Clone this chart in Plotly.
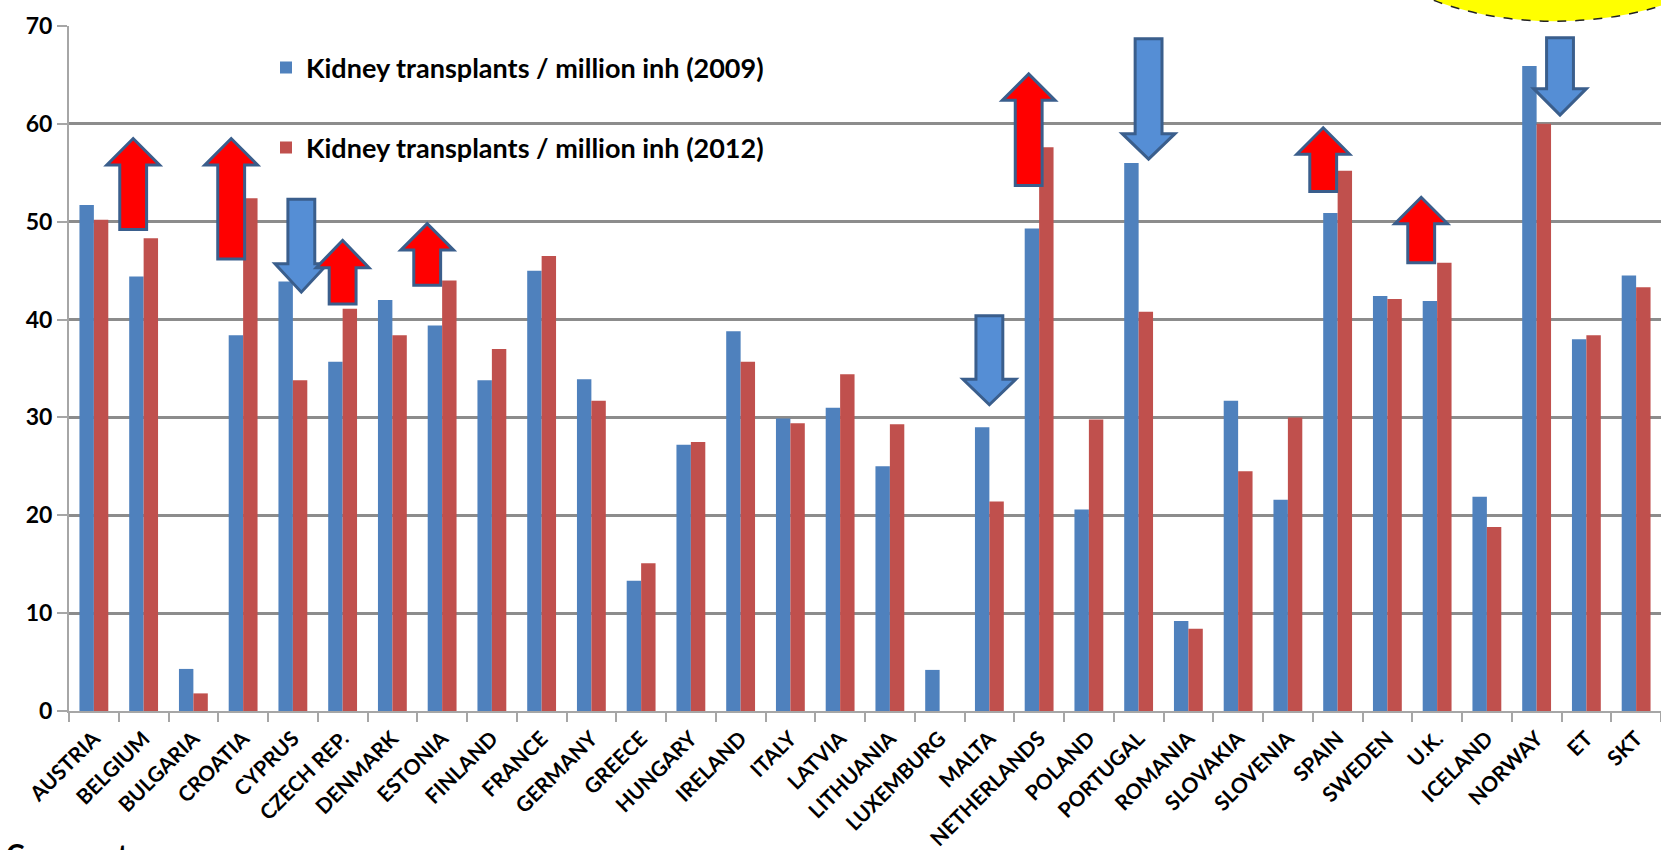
import plotly.graph_objects as go

# ---------------- data ----------------
countries = ["AUSTRIA", "BELGIUM", "BULGARIA", "CROATIA", "CYPRUS", "CZECH REP.",
             "DENMARK", "ESTONIA", "FINLAND", "FRANCE", "GERMANY", "GREECE",
             "HUNGARY", "IRELAND", "ITALY", "LATVIA", "LITHUANIA", "LUXEMBURG",
             "MALTA", "NETHERLANDS", "POLAND", "PORTUGAL", "ROMANIA", "SLOVAKIA",
             "SLOVENIA", "SPAIN", "SWEDEN", "U.K.", "ICELAND", "NORWAY", "ET", "SKT"]

kidney_2009 = [51.7, 44.4, 4.3, 38.4, 43.9, 35.7, 42.0, 39.4, 33.8, 45.0,
               33.9, 13.3, 27.2, 38.8, 29.9, 31.0, 25.0, 4.2, 29.0, 49.3,
               20.6, 56.0, 9.2, 31.7, 21.6, 50.9, 42.4, 41.9, 21.9, 65.9,
               38.0, 44.5]

kidney_2012 = [50.2, 48.3, 1.8, 52.4, 33.8, 41.1, 38.4, 44.0, 37.0, 46.5,
               31.7, 15.1, 27.5, 35.7, 29.4, 34.4, 29.3, None, 21.4, 57.6,
               29.8, 40.8, 8.4, 24.5, 30.0, 55.2, 42.1, 45.8, 18.8, 60.0,
               38.4, 43.3]

series_names = ["Kidney transplants / million inh (2009)",
                "Kidney transplants / million inh (2012)"]

y_ticks = [0, 10, 20, 30, 40, 50, 60, 70]

# change-indicator arrows drawn over the chart (annotation layer)
arrow_country = ["BELGIUM", "CROATIA", "CYPRUS", "CZECH REP.", "ESTONIA", "MALTA",
                 "NETHERLANDS", "PORTUGAL", "SPAIN", "U.K.", "NORWAY"]
arrow_dir = ["up", "up", "down", "up", "up", "down", "up", "down", "up", "up", "down"]
arrow_tail = [49.2, 46.2, 52.3, 41.6, 43.5, 40.4, 53.7, 68.7, 53.1, 45.8, 68.8]
arrow_head_base = [55.8, 55.8, 45.7, 45.3, 47.1, 33.9, 62.4, 59.0, 56.9, 49.8, 63.6]
arrow_tip = [58.5, 58.5, 42.8, 48.1, 49.8, 31.3, 65.1, 56.4, 59.6, 52.5, 60.9]
arrow_shift = [-0.21, -0.24, 0.17, 0.0, -0.30, 0.0, -0.21, 0.2, -0.29, -0.32, 0.47]

# ---------------- styles ----------------
BLUE = "#4F81BD"
RED = "#C0504D"
GRID = "#8C8C8C"
AXIS = "#A6A6A6"
FONT = "Lato"

fig = go.Figure()
fig.add_trace(go.Bar(x=countries, y=kidney_2009, name=series_names[0],
                     marker=dict(color=BLUE, line=dict(width=0)), legend="legend"))
fig.add_trace(go.Bar(x=countries, y=kidney_2012, name=series_names[1],
                     marker=dict(color=RED, line=dict(width=0)), legend="legend2"))

shapes = []
SHAFT = 0.27
HEAD = 0.53
for c, d, t0, hb, tp, sh in zip(arrow_country, arrow_dir, arrow_tail,
                                arrow_head_base, arrow_tip, arrow_shift):
    xc = countries.index(c) + sh
    path = (f"M {xc - SHAFT},{t0} L {xc + SHAFT},{t0} L {xc + SHAFT},{hb} "
            f"L {xc + HEAD},{hb} L {xc},{tp} L {xc - HEAD},{hb} L {xc - SHAFT},{hb} Z")
    fill = "#FF0000" if d == "up" else "#558ED5"
    shapes.append(dict(type="path", xref="x", yref="y", path=path,
                       fillcolor=fill, line=dict(color="#3A5E8C", width=3),
                       layer="above"))

# yellow callout ellipse, cut by top edge
shapes.append(dict(type="circle", xref="paper", yref="paper",
                   x0=(1365 - 69) / 1592, x1=(1745 - 69) / 1592,
                   y0=(711 - 21.7) / 684.5, y1=(711 + 160) / 684.5,
                   fillcolor="#FFFF00", line=dict(color="#222222", width=1.5, dash="dash"),
                   layer="above"))

fig.update_layout(
    width=1661, height=850,
    margin=dict(l=69, r=0, t=26, b=139, autoexpand=False),
    paper_bgcolor="white", plot_bgcolor="white",
    barmode="group", bargap=0.42, bargroupgap=0,
    font=dict(family=FONT, color="#000000"),
    shapes=shapes,
    showlegend=True,
    legend=dict(xref="container", yref="container", x=266 / 1661, y=1 - 68 / 850,
                xanchor="left", yanchor="middle", bgcolor="rgba(0,0,0,0)",
                font=dict(family=FONT, size=27, color="#000000", weight="bold"),
                itemclick=False),
    legend2=dict(xref="container", yref="container", x=266 / 1661, y=1 - 148 / 850,
                 xanchor="left", yanchor="middle", bgcolor="rgba(0,0,0,0)",
                 font=dict(family=FONT, size=27, color="#000000", weight="bold"),
                 itemclick=False),
    xaxis=dict(
        type="category", tickangle=-45, tickson="boundaries",
        ticks="outside", ticklen=9, tickwidth=2, tickcolor=AXIS,
        showline=True, linecolor=AXIS, linewidth=2,
        showgrid=False, zeroline=False,
        tickfont=dict(family=FONT, size=21, color="#000000", weight="bold"),
        ticklabelstandoff=5,
        range=[-0.5, len(countries) - 0.5],
    ),
    yaxis=dict(
        range=[0, 70], tickvals=y_ticks, ticktext=[str(v) for v in y_ticks],
        ticks="outside", ticklen=10, tickwidth=2, tickcolor=AXIS,
        ticklabelstandoff=0,
        showline=True, linecolor=AXIS, linewidth=2,
        showgrid=True, gridcolor=GRID, gridwidth=2.5,
        zeroline=False,
        tickfont=dict(family=FONT, size=23, color="#000000", weight="bold"),
    ),
    annotations=[dict(text="Comments:", xref="paper", yref="paper",
                      x=(4 - 69) / 1592, y=(711 - 835) / 684.5,
                      xanchor="left", yanchor="top", showarrow=False,
                      font=dict(family=FONT, size=28, color="#000000", weight="bold"))],
)

fig.write_html("out.html", config={"displayModeBar": False},
               post_script="document.body.style.margin='0px';document.body.style.overflow='hidden';")
